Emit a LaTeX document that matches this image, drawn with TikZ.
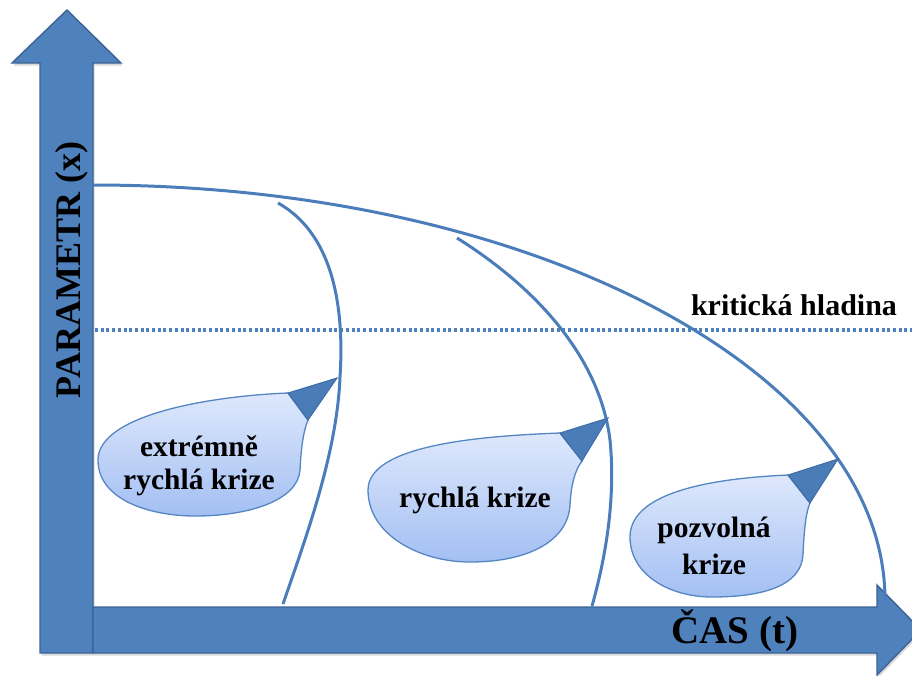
\documentclass[tikz,border=0pt]{standalone}
\usepackage{fontspec}
\setmainfont{Liberation Serif}
\definecolor{axisfill}{HTML}{4F81BD}
\definecolor{axisline}{HTML}{3A6395}
\definecolor{curveblue}{HTML}{4A7DBA}
\definecolor{bubbletop}{HTML}{DEE8FC}
\definecolor{bubblebot}{HTML}{A3BFF3}
\definecolor{bubbleline}{HTML}{5586C4}
\definecolor{tipfill}{HTML}{4A7CB8}
\definecolor{tipline}{HTML}{3F6CA5}
\begin{document}
\begin{tikzpicture}[x=1pt,y=-1pt,
  axisarrow/.style={fill=axisfill, draw=axisline, line width=1.4pt, line join=miter},
  axisshadow/.style={fill=black, opacity=0.15},
  curve/.style={draw=curveblue, line width=3pt},
  critline/.style={draw=axisfill, line width=3.2pt, dash pattern=on 3pt off 2.7pt},
  bubble/.style={top color=bubbletop, bottom color=bubblebot, draw=bubbleline, line width=1.3pt},
  bubbletip/.style={fill=tipfill, draw=tipline, line width=1pt, line join=miter},
  axislabel/.style={font=\bfseries\fontsize{37}{40}\selectfont, inner sep=0pt},
  bubbletext/.style={font=\bfseries\fontsize{29.5}{33}\selectfont, inner sep=0pt, align=center},
]
\useasboundingbox (0,0) rectangle (912,675);
\begin{scope}
\clip (0,0) rectangle (912,675);
% soft shadows under the two axis arrows
\fill[axisshadow, shift={(1.5,2.5)}] (40,653) -- (40,63) -- (12,63) -- (67,10) -- (121,63) -- (93,63) -- (93,653) -- cycle;
\fill[axisshadow, shift={(1.5,2.5)}] (93,607) -- (877,607) -- (877,585) -- (921,630) -- (877,675) -- (877,653) -- (93,653) -- cycle;
% vertical axis (parameter)
\path[axisarrow] (40,653) -- (40,63) -- (12,63) -- (67,10) -- (121,63) -- (93,63) -- (93,653) -- cycle;
% horizontal axis (time)
\path[axisarrow] (93,607) -- (877,607) -- (877,585) -- (921,630) -- (877,675) -- (877,653) -- (93,653) -- cycle;
\end{scope}

\node[axislabel, rotate=90, anchor=base, font=\bfseries\fontsize{36}{40}\selectfont] (param) at (80,270) {PARAMETR (x)};
\node[axislabel, anchor=base, font=\bfseries\fontsize{39}{42}\selectfont] (cas) at (735,643) {ČAS (t)};

% critical level
\draw[critline] (95,330) -- (912,330);
\node[inner sep=0pt, anchor=base, font=\bfseries\fontsize{30}{34}\selectfont] (krit) at (794,315) {kritická hladina};

% slow crisis envelope (quarter ellipse)
\draw[curve] (93,185) .. controls (530,185) and (885,371) .. (885,600);
% extremely fast crisis
\draw[curve] (278,203) .. controls (330,232) and (345,300) .. (340,377) .. controls (337,454) and (305,540) .. (283,604);
% fast crisis
\draw[curve] (457,238) .. controls (540,290) and (600,360) .. (610,440) .. controls (616,500) and (605,560) .. (592,606);

% callout: extremely fast crisis
\path[bubble] (288,393) .. controls (210,396) and (98,415) .. (98,460) .. controls (98,500) and (150,516) .. (195,516) .. controls (250,516) and (298,500) .. (300,470) .. controls (301,450) and (303,432) .. (308,420) -- cycle;
\path[bubbletip] (288,393) -- (337,378) -- (308,420) -- cycle;
\node[bubbletext, anchor=center] (b1) at (199,466) {extrémně\\rychlá krize};

% callout: fast crisis
\path[bubble] (560,433) .. controls (480,436) and (368,445) .. (368,490) .. controls (368,535) and (420,562) .. (470,562) .. controls (530,562) and (568,540) .. (570,505) .. controls (571,485) and (575,470) .. (582,461) -- cycle;
\path[bubbletip] (560,433) -- (608,418) -- (582,461) -- cycle;
\node[bubbletext, anchor=base] (b2) at (475,507) {rychlá krize};

% callout: slow crisis
\path[bubble] (788,475) .. controls (720,478) and (630,490) .. (630,537) .. controls (630,575) and (670,597) .. (712,597) .. controls (765,597) and (801,585) .. (803,555) .. controls (804,530) and (806,512) .. (810,503) -- cycle;
\path[bubbletip] (788,475) -- (838,459) -- (810,503) -- cycle;
\node[bubbletext, anchor=center, font=\bfseries\fontsize{29.5}{37}\selectfont] (b3) at (714,546) {pozvolná\\krize};
\end{tikzpicture}
\end{document}
